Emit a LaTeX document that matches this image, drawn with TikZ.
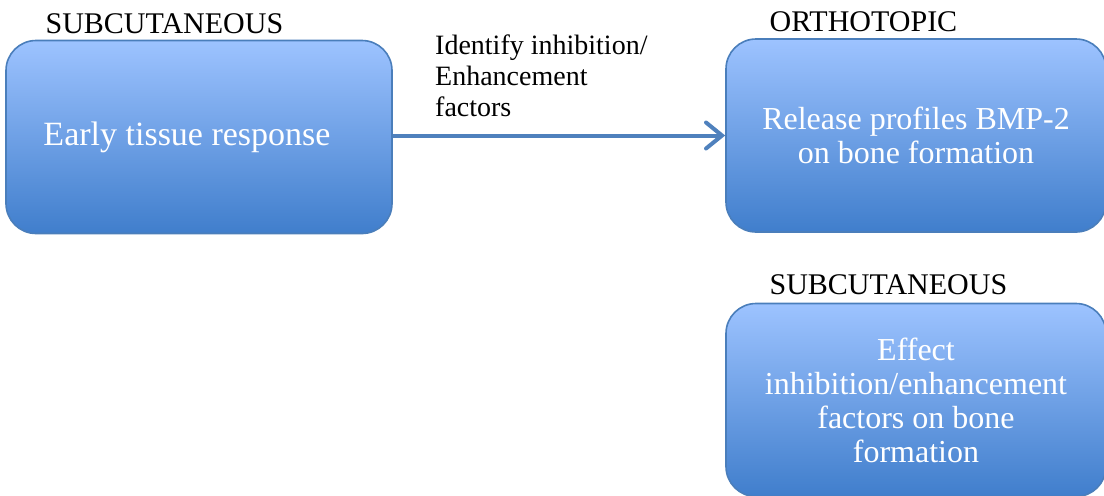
\documentclass[tikz,border=0pt]{standalone}
\usepackage{fontspec}
\setmainfont{Liberation Serif}
\usetikzlibrary{positioning,arrows.meta}
\definecolor{boxtop}{RGB}{157,195,255}
\definecolor{boxbot}{RGB}{64,126,204}
\definecolor{boxline}{RGB}{74,126,187}
\definecolor{flowblue}{RGB}{79,129,189}
\tikzset{
  stage/.style={draw=boxline, line width=0.8pt, rounded corners=15pt,
    top color=boxtop, bottom color=boxbot, text=white, align=center,
    inner sep=4pt, font=\fontsize{16}{17}\selectfont},
  model/.style={inner sep=0pt, font=\fontsize{15}{17}\selectfont},
  note/.style={inner sep=0pt, align=left, font=\fontsize{14}{15.5}\selectfont},
  flow/.style={draw=flowblue, line width=2pt,
    -{Straight Barb[length=8pt,width=13pt,line cap=round]}}
}
\begin{document}
\begin{tikzpicture}[x=0.5pt,y=-0.5pt, line join=round]
  \def\bw{193pt} \def\bh{96.5pt} % box size
  \useasboundingbox (0,0) rectangle (1104,495);
  \clip (0,0) rectangle (1104,495);
  % boxes
  \node[stage, minimum width=\bw, minimum height=\bh, font=\fontsize{17}{18}\selectfont] (early) at (199,137) {Early tissue response\hspace{12pt}};
  \node[stage, minimum width=190pt, minimum height=\bh] (ortho) at (916,135.5) {Release profiles BMP-2\\on bone formation};
  \node[stage, minimum width=190pt, minimum height=\bh] (effect) at (916,400) {Effect\\inhibition/enhancement\\factors on bone\\formation};
  % model labels
  \node[model, above right=3pt and 20pt of early.north west] (subA) {SUBCUTANEOUS};
  \node[model, above right=3pt and 22pt of ortho.north west] (orthoA) {ORTHOTOPIC};
  \node[model, above right=4pt and 22pt of effect.north west] (subB) {SUBCUTANEOUS};
  % arrow
  \draw[flow] (early.east |- ortho.west) -- (ortho.west);
  \node[note, above right=10pt and 21pt of early.east] (why) {Identify inhibition/\\Enhancement\\factors};
\end{tikzpicture}
\end{document}
